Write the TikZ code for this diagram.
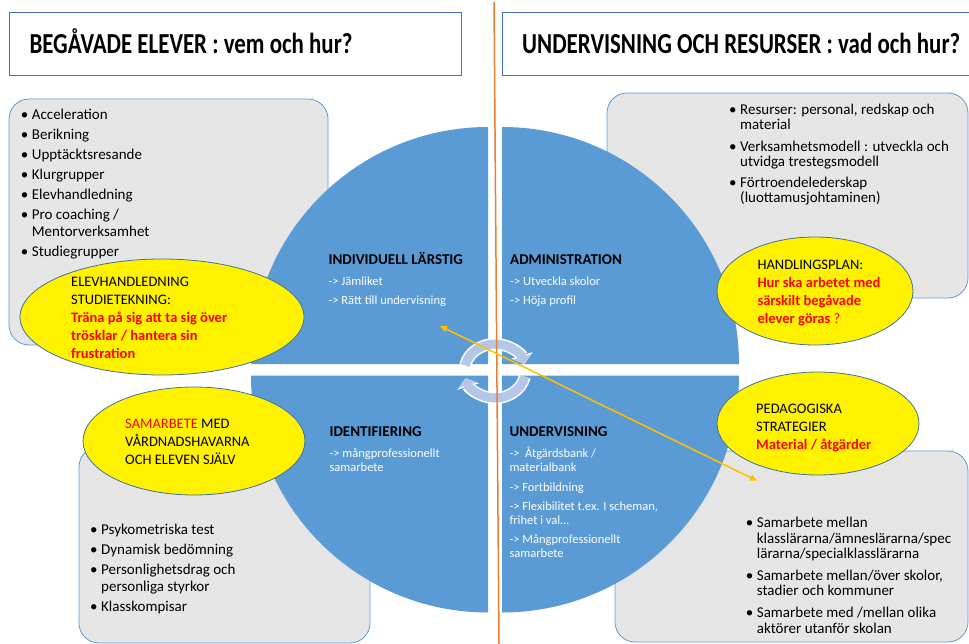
\documentclass[tikz,border=0pt]{standalone}
\usepackage{fontspec}
\setmainfont{Carlito}
\usepackage{graphicx}
\usepackage{tikz}
\usetikzlibrary{arrows.meta}
\definecolor{quad}{HTML}{5B9BD5}
\definecolor{boxfill}{HTML}{E7E6E6}
\definecolor{boxline}{HTML}{5B9BD5}
\definecolor{ovalline}{HTML}{41719C}
\definecolor{headline}{HTML}{4472C4}
\definecolor{ringblue}{HTML}{B4C7E7}
\definecolor{divider}{HTML}{ED7D31}
\definecolor{link}{HTML}{FFC000}
\newcommand{\blt}{\makebox[11pt][l]{\textbullet}}
\newcommand{\hng}{\hspace*{11pt}}
\newcommand{\rd}[1]{\textcolor{red}{\textbf{#1}}}

\begin{document}
\begin{tikzpicture}[x=1pt, y=-1pt]
\tikzstyle{every node} = [inner sep=0pt, anchor=base west, align=left]
\tikzstyle{title} = [font=\fontsize{29}{31}\selectfont\bfseries]
\tikzstyle{list} = [font=\fontsize{15}{16.7}\selectfont]
\tikzstyle{head} = [font=\fontsize{15}{17}\selectfont\bfseries]
\tikzstyle{sub} = [font=\fontsize{12.5}{14}\selectfont, text=white]
\tikzstyle{oval} = [font=\fontsize{14.5}{18}\selectfont]
\tikzstyle{graybox} = [fill=boxfill, draw=boxline, line width=0.8pt, rounded corners=20pt]
\tikzstyle{yel} = [fill=yellow, draw=ovalline, line width=0.8pt]
\useasboundingbox (0,0) rectangle (969,644);

\draw[headline, line width=0.9pt] (9.3,12.3) rectangle (461,75.7);
\draw[headline, line width=0.9pt] (502,12.3) rectangle (990,75.7);
\node[title] (ta) at (29.3,53.3) {\scalebox{0.79}[1]{BEGÅVADE ELEVER : vem och hur?}};
\node[title] (tb) at (522,53.3) {\scalebox{0.79}[1]{UNDERVISNING OCH RESURSER : vad och hur?}};

\draw[graybox] (9,99) rectangle (328,345);
\draw[graybox] (607,93) rectangle (968,298);
\draw[graybox] (79,447) rectangle (370,643);
\draw[graybox] (615,451) rectangle (968,642);

\foreach \cx/\cy/\a/\b in {488/364/270/180, 502/364/270/360, 488/375.5/90/180, 502/375.5/90/0}
\fill[quad] (\cx,\cy) -- ++(\a:237) arc[start angle=\a, end angle=\b, radius=237] -- cycle;

\foreach \a/\b in {192/345, 12/165} {
\draw[white, line width=12pt, -{Triangle[length=9pt, width=22pt]}] (495,371) ++(\a:30.5 and 27) arc[start angle=\a, end angle=\b, x radius=30.5, y radius=27];
\draw[ringblue, line width=9pt, -{Triangle[length=7.5pt, width=18pt]}] (495,371) ++(\a:30.5 and 27) arc[start angle=\a, end angle=\b, x radius=30.5, y radius=27];
}

\filldraw[yel] (162,317) ellipse [x radius=142, y radius=58];
\filldraw[yel] (815,291) ellipse [x radius=98, y radius=54];
\filldraw[yel] (194,441) ellipse [x radius=111, y radius=54];
\filldraw[yel] (818,423.5) ellipse [x radius=101, y radius=51.5];

\node[list] (la) at (20.7,256.7) {\blt Acceleration\\[3.3pt]\blt Berikning\\[3.3pt]\blt Upptäcktsresande\\[3.3pt]\blt Klurgrupper\\[3.3pt]\blt Elevhandledning\\[3.3pt]\blt Pro coaching /\\\hng Mentorverksamhet\\[3.3pt]\blt Studiegrupper};
\node[list, font=\fontsize{15}{15.3}\selectfont] (lb) at (729,203) {\blt Resurser: personal, redskap och\\\hng material\\[6pt]\blt Verksamhetsmodell : utveckla och\\\hng utvidga trestegsmodell\\[6pt]\blt Förtroendelederskap\\\hng (luottamusjohtaminen)};
\node[list] (lc) at (90,611) {\blt Psykometriska test\\[3.3pt]\blt Dynamisk bedömning\\[3.3pt]\blt Personlighetsdrag och\\\hng personliga styrkor\\[3.3pt]\blt Klasskompisar};
\node[list, font=\fontsize{15}{15.6}\selectfont] (ld) at (745.7,633) {\blt Samarbete mellan\\\hng klasslärarna/ämneslärarna/spec\\\hng lärarna/specialklasslärarna\\[6pt]\blt Samarbete mellan/över skolor,\\\hng stadier och kommuner\\[6pt]\blt Samarbete med /mellan olika\\\hng aktörer utanför skolan};

\node[head] (qa) at (328.3,265) {INDIVIDUELL LÄRSTIG};
\node[sub] (sa) at (328.3,305) {-> Jämliket\\[5pt]-> Rätt till undervisning};
\node[head] (qb) at (510,265) {ADMINISTRATION};
\node[sub] (sb) at (510,305) {-> Utveckla skolor\\[5pt]-> Höja profil};
\node[head] (qc) at (329.3,436.7) {IDENTIFIERING};
\node[sub] (sc) at (329.3,471) {-> mångprofessionellt\\samarbete};
\node[head] (qd) at (509.3,436.7) {UNDERVISNING};
\node[sub] (sd) at (509.3,557.7) {-> \ Åtgärdsbank /\\materialbank\\[6pt]-> Fortbildning\\[5.3pt]-> Flexibilitet t.ex. I scheman,\\frihet i val…\\[5.3pt]-> Mångprofessionellt\\samarbete};

\node[oval] (ea) at (71,358.3) {ELEVHANDLEDNING\\STUDIETEKNING:\\\rd{Träna på sig att ta sig över}\\\rd{trösklar / hantera sin}\\\rd{frustration}};
\node[oval] (eb) at (757.3,323.3) {HANDLINGSPLAN:\\\rd{Hur ska arbetet med}\\\rd{särskilt begåvade}\\\textcolor{red}{\textbf{elever göras} ?}};
\node[oval] (ec) at (125,464) {\textcolor{red}{SAMARBETE} MED\\VÅRDNADSHAVARNA\\OCH ELEVEN SJÄLV};
\node[oval] (ed) at (756,449.3) {PEDAGOGISKA\\STRATEGIER\\\rd{Material / åtgärder}};

\coordinate (top) at (494,2);
\coordinate (bot) at (499,644);
\draw[divider, line width=1.5pt] (top) -- (bot);
\coordinate (p) at (440,326);
\coordinate (q) at (757,480.7);
\draw[link, line width=1.5pt, {Triangle[length=7pt, width=6pt]}-{Triangle[length=7pt, width=6pt]}] (p) -- (q);
\end{tikzpicture}
\end{document}
